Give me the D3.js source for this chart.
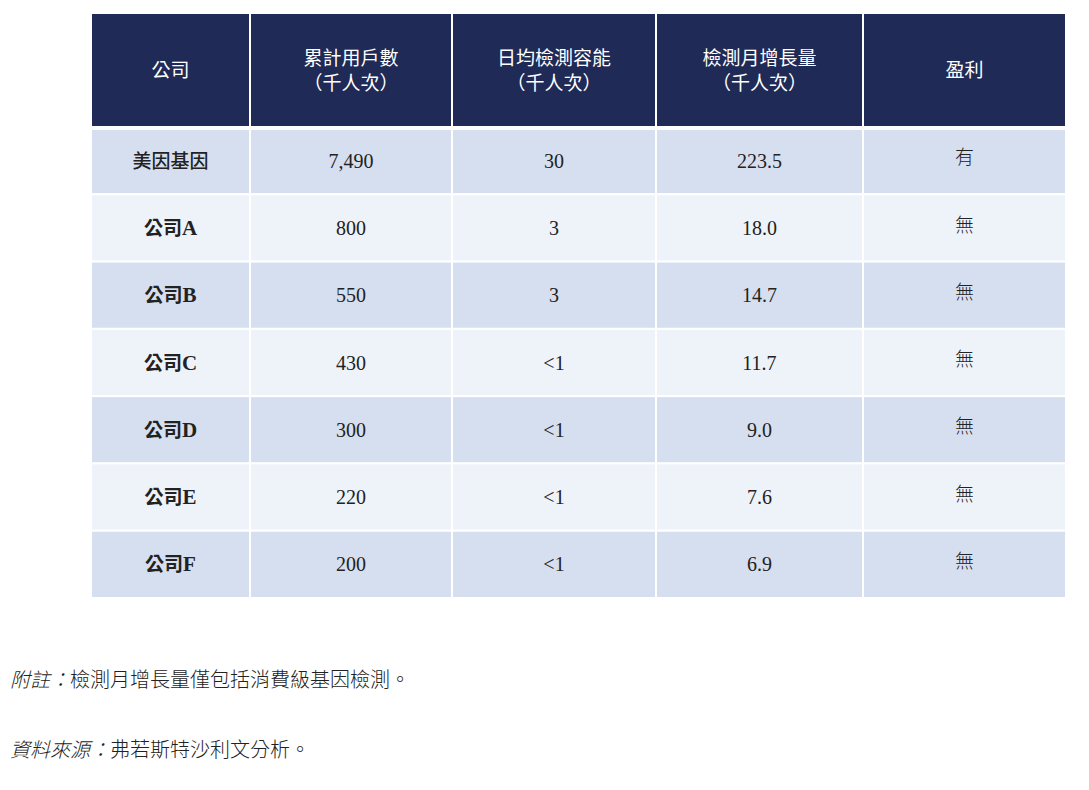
<!DOCTYPE html>
<html lang="zh-Hant">
<head>
<meta charset="UTF-8">
<script src="https://d3js.org/d3.v7.min.js"></script>
<style>
  body { margin: 0; background: #fff; }
  svg { display: block; }
</style>
</head>
<body>
<svg width="1089" height="790"></svg>
<script>
const headers = ["公司", "累計用戶數\n（千人次）", "日均檢測容能\n（千人次）", "檢測月增長量\n（千人次）", "盈利"];
const companies = ["美因基因", "公司A", "公司B", "公司C", "公司D", "公司E", "公司F"];
const users = ["7,490", "800", "550", "430", "300", "220", "200"];
const capacity = ["30", "3", "3", "<1", "<1", "<1", "<1"];
const growth = ["223.5", "18.0", "14.7", "11.7", "9.0", "7.6", "6.9"];
const profit = ["有", "無", "無", "無", "無", "無", "無"];
const notes = [["附註：", "檢測月增長量僅包括消費級基因檢測。"], ["資料來源：", "弗若斯特沙利文分析。"]];

const svg = d3.select("svg");
const colEdges = [91, 250, 452, 656, 863, 1066];
const x = d3.scaleOrdinal().domain(d3.range(5)).range(colEdges.slice(0, 5));
const colW = i => colEdges[i + 1] - colEdges[i];
const y = d3.scaleBand().domain(d3.range(companies.length)).range([127, 598]);

const cjk = "'Noto Sans CJK TC', sans-serif";
const serif = "'Liberation Serif', 'Times New Roman', serif";

// header
const head = svg.append("g");
headers.forEach((h, i) => {
  head.append("rect").attr("x", x(i)).attr("y", 13).attr("width", colW(i)).attr("height", 114)
    .attr("fill", "#1f2a56").attr("stroke", "#fff").attr("stroke-width", 2);
  const lines = h.split("\n");
  const t = head.append("text").attr("x", x(i) + colW(i) / 2).attr("y", 70 - (lines.length - 1) * 12)
    .attr("text-anchor", "middle").attr("fill", "#fff").attr("font-family", cjk).attr("font-size", 19);
  lines.forEach((l, k) => t.append("tspan").attr("x", x(i) + colW(i) / 2).attr("dy", k === 0 ? "0.35em" : 25).text(l));
});

// body
const rows = companies.map((c, r) => [c, users[r], capacity[r], growth[r], profit[r]]);
rows.forEach((row, r) => {
  row.forEach((v, i) => {
    svg.append("rect").attr("x", x(i)).attr("y", y(r) + (r === 0 ? 2 : 0)).attr("width", colW(i))
      .attr("height", y.bandwidth() - (r === 0 ? 2 : 0))
      .attr("fill", r % 2 === 0 ? "#d6dff0" : "#eef2f9").attr("stroke", "#fff").attr("stroke-width", 2);
    const t = svg.append("text").attr("x", x(i) + colW(i) / 2).attr("y", y(r) + y.bandwidth() / 2 + (i === 4 ? -3 : 0))
      .attr("dy", "0.35em").attr("text-anchor", "middle").attr("fill", "#222").attr("font-size", 20);
    if (i === 0) {
      const m = v.match(/^(.*?)([A-Z]?)$/);
      t.append("tspan").attr("font-family", cjk).attr("font-weight", r === 0 ? 500 : 700).attr("font-size", 19).text(m[1]);
      if (m[2]) t.append("tspan").attr("font-family", serif).attr("font-weight", 700).attr("font-size", 21).text(m[2]);
    } else if (i === 4) {
      t.attr("font-family", cjk).attr("font-weight", 300).attr("font-size", 19).text(v);
    } else {
      t.attr("font-family", serif).text(v);
    }
  });
});

// notes
notes.forEach((n, k) => {
  const t = svg.append("text").attr("x", 10).attr("y", 680 + k * 70).attr("dy", "0.35em")
    .attr("fill", "#222").attr("font-family", cjk).attr("font-weight", 300).attr("font-size", 20);
  t.append("tspan").attr("font-style", "italic").text(n[0]);
  t.append("tspan").text(n[1]);
});
</script>
</body>
</html>
